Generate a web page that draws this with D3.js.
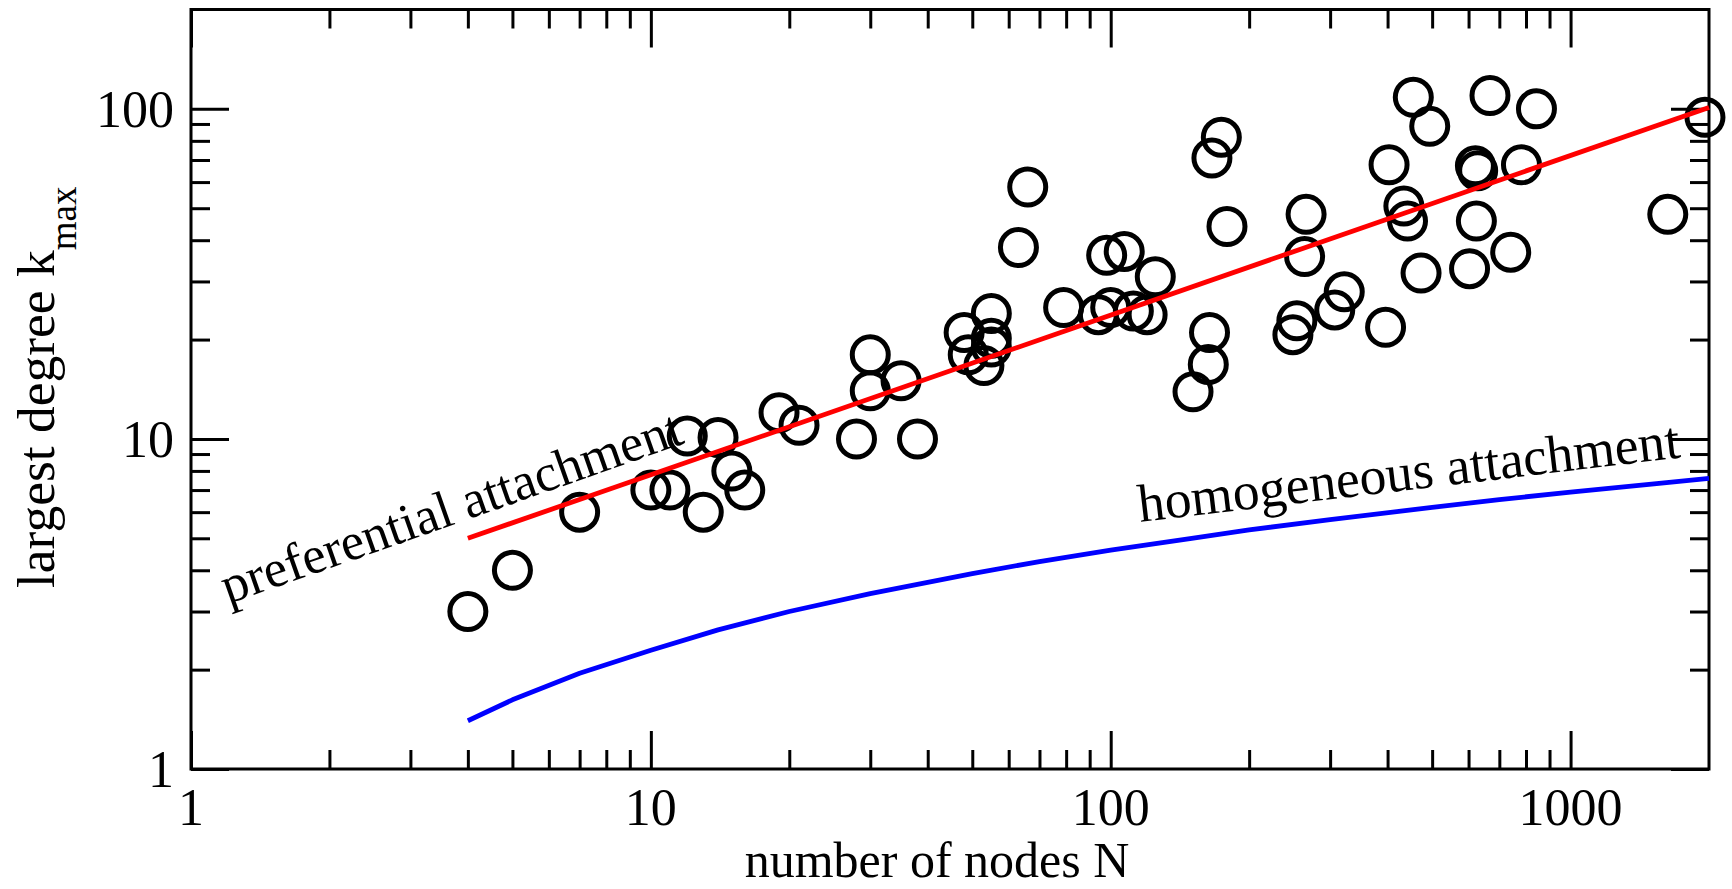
<!DOCTYPE html>
<html>
<head>
<meta charset="utf-8">
<script src="https://cdn.jsdelivr.net/npm/d3@7"></script>
<style>
  html, body { margin: 0; padding: 0; background: #fff; }
  svg { display: block; }
  text { font-family: "Liberation Serif", "Times New Roman", serif; fill: #000; }
</style>
</head>
<body>
<svg id="chart" width="1732" height="889"></svg>
<script>
// Real networks: size N versus largest degree k_max
const nodes = [4, 5, 7, 10, 11, 12, 13, 14, 15, 16, 19, 21, 28, 30, 30, 35, 38,
  48, 49, 53, 55, 55, 55, 63, 66, 79, 94, 98, 100, 107, 112, 120, 125,
  151, 163, 164, 166, 174, 179, 249, 254, 264, 266, 307, 322, 396, 403,
  434, 442, 455, 473, 494, 603, 621, 628, 624, 668, 741, 782, 843, 1627, 1960];
const kmax = [3, 4, 6, 7, 7, 10.2, 6, 10.1, 8, 7, 12, 11, 10, 18, 14, 15, 10,
  21, 18, 16.7, 24, 20.2, 19, 38, 58, 25, 23.8, 36, 25, 37, 24.4, 23.8, 31,
  13.9, 16.8, 21, 71, 82, 44, 20.7, 22.8, 35.7, 47.9, 24.6, 27.9, 21.8, 67.7,
  50.8, 45.7, 108.5, 31.8, 88.5, 32.8, 67.2, 64.9, 45.7, 109.8, 36.8, 67.7, 100, 47.9, 94.3];

// Preferential attachment prediction (straight in log-log)
const prefN = [4, 2000];
const prefK = [5, 101];

// Homogeneous attachment prediction
const homN = [4, 5, 7, 10, 14, 20, 30, 50, 70, 100, 150, 200, 300, 500, 700, 1000, 1500, 2000];
const homK = [1.40, 1.62, 1.95, 2.29, 2.64, 3.0, 3.4, 3.91, 4.25, 4.6, 5.0, 5.3, 5.7, 6.2, 6.55, 6.9, 7.3, 7.6];

// Axis ticks
const xMajor = [1, 10, 100, 1000];
const xMinor = [2, 3, 4, 5, 6, 7, 8, 9, 20, 30, 40, 50, 60, 70, 80, 90, 200, 300, 400, 500, 600, 700, 800, 900];
const yMajor = [1, 10, 100];
const yMinor = [2, 3, 4, 5, 6, 7, 8, 9, 20, 30, 40, 50, 60, 70, 80, 90];
const xTickLabels = ["1", "10", "100", "1000"];
const yTickLabels = ["1", "10", "100"];

const svg = d3.select("#chart");
const L = 191, R = 1709, T = 9.5, B = 769;

const x = d3.scaleLog().domain([1, 2000]).range([L, R]);
const y = d3.scaleLog().domain([1, 200]).range([B, T]);

const MAJ = 38, MIN = 19;

function tickAxis(gen, vals, len, tx, ty) {
  const g = svg.append("g").attr("transform", `translate(${tx},${ty})`)
    .call(gen.tickValues(vals).tickSize(len).tickFormat(""));
  g.select(".domain").remove();
  g.selectAll(".tick line").attr("stroke", "#000").attr("stroke-width", 3);
  return g;
}

// Inward ticks on all four sides
tickAxis(d3.axisBottom(x), xMajor, -MAJ, 0, B);
tickAxis(d3.axisBottom(x), xMinor, -MIN, 0, B);
tickAxis(d3.axisTop(x), xMajor, -MAJ, 0, T);
tickAxis(d3.axisTop(x), xMinor, -MIN, 0, T);
tickAxis(d3.axisLeft(y), yMajor, -MAJ, L, 0);
tickAxis(d3.axisLeft(y), yMinor, -MIN, L, 0);
tickAxis(d3.axisRight(y), yMajor, -MAJ, R, 0);
tickAxis(d3.axisRight(y), yMinor, -MIN, R, 0);

// Frame
svg.append("rect")
  .attr("x", L).attr("y", T).attr("width", R - L).attr("height", B - T)
  .attr("fill", "none").attr("stroke", "#000").attr("stroke-width", 3);

// Tick labels
svg.append("g").selectAll("text").data(xMajor).join("text")
  .attr("x", d => x(d)).attr("y", 825)
  .attr("text-anchor", "middle").attr("font-size", 52)
  .text((d, i) => xTickLabels[i]);

svg.append("g").selectAll("text").data(yMajor).join("text")
  .attr("x", 174).attr("y", d => y(d)).attr("dy", "0.35em")
  .attr("text-anchor", "end").attr("font-size", 52)
  .text((d, i) => yTickLabels[i]);

// Axis titles
svg.append("text")
  .attr("x", 937).attr("y", 877).attr("text-anchor", "middle").attr("font-size", 50)
  .text("number of nodes N");

const yl = svg.append("text")
  .attr("transform", "translate(54,588) rotate(-90)")
  .attr("font-size", 53.5);
yl.append("tspan").text("largest degree k");
yl.append("tspan").attr("dy", 22).attr("font-size", 37).text("max");

// Data points
svg.append("g").selectAll("circle").data(nodes).join("circle")
  .attr("cx", d => x(d)).attr("cy", (d, i) => y(kmax[i]))
  .attr("r", 18)
  .attr("fill", "none").attr("stroke", "#000").attr("stroke-width", 5);

// Prediction lines
const line = d3.line().x(d => x(d[0])).y(d => y(d[1]));
svg.append("path")
  .attr("d", line(prefN.map((n, i) => [n, prefK[i]])))
  .attr("fill", "none").attr("stroke", "#ff0000").attr("stroke-width", 4.8);
svg.append("path")
  .attr("d", line(homN.map((n, i) => [n, homK[i]])))
  .attr("fill", "none").attr("stroke", "#0000ff").attr("stroke-width", 4.8)
  .attr("stroke-linejoin", "round");

// Line annotations
svg.append("text")
  .attr("transform", "translate(228,604) rotate(-19.4)")
  .attr("font-size", 52.5)
  .text("preferential attachment");
svg.append("text")
  .attr("transform", "translate(1140,522) rotate(-6.8)")
  .attr("font-size", 53.5)
  .text("homogeneous attachment");
</script>
</body>
</html>
